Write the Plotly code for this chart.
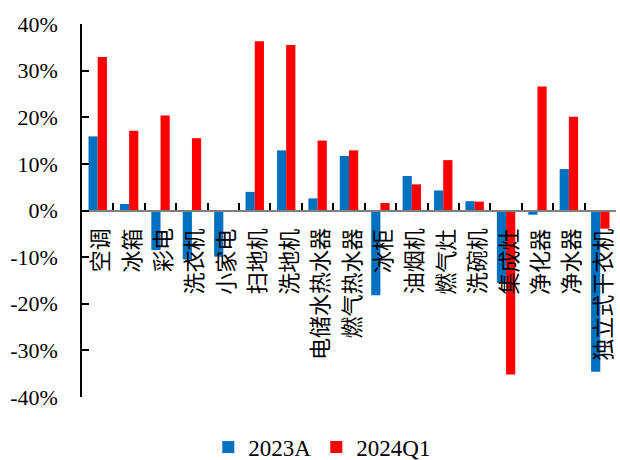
import plotly.graph_objects as go

# Year-on-year growth by appliance category (%)
categories = ["空调", "冰箱", "彩电", "洗衣机", "小家电", "扫地机", "洗地机",
              "电储水热水器", "燃气热水器", "冰柜", "油烟机", "燃气灶", "洗碗机",
              "集成灶", "净化器", "净水器", "独立式干衣机"]
growth_2023a = [15.9, 1.4, -8.5, -10.5, -9.9, 4.0, 12.9,
                2.6, 11.7, -18.2, 7.4, 4.3, 2.0,
                -15.5, -0.9, 8.9, -34.6]
growth_2024q1 = [32.9, 17.1, 20.4, 15.5, -0.3, 36.3, 35.5,
                 15.0, 12.9, 1.6, 5.6, 10.8, 1.9,
                 -35.2, 26.6, 20.1, -3.9]
y_ticks = [-40, -30, -20, -10, 0, 10, 20, 30, 40]

SERIF = "Liberation Serif"
CJK = "Noto Sans CJK SC"

fig = go.Figure()
fig.add_trace(go.Bar(name="2023A", x=categories, y=growth_2023a,
                     marker=dict(color="#0070C0", line=dict(width=0))))
fig.add_trace(go.Bar(name="2024Q1", x=categories, y=growth_2024q1,
                     marker=dict(color="#FF0000", line=dict(width=0))))

# Vertical category labels hanging just below the zero line
for cat in categories:
    fig.add_annotation(x=cat, y=0, xref="x", yref="y", text=cat,
                       textangle=-90, showarrow=False,
                       xanchor="center", yanchor="top", yshift=-16,
                       font=dict(family=CJK, size=22, color="black"))

fig.update_layout(
    width=620, height=460,
    font=dict(family=SERIF, color="black"),
    margin=dict(l=82, r=4, t=24, b=63, autoexpand=False),
    paper_bgcolor="white", plot_bgcolor="white",
    barmode="group", bargap=0.414, bargroupgap=0,
    showlegend=True,
    legend=dict(orientation="h", x=0.45, xanchor="center",
                y=-0.134, yanchor="middle",
                font=dict(family=SERIF, size=23, color="black"),
                itemwidth=30, tracegroupgap=0),
    xaxis=dict(
        type="category", anchor="free", position=0.5,
        range=[-0.5, len(categories) - 0.5],
        showline=True, linecolor="#7f7f7f", linewidth=2,
        tickson="boundaries", ticks="inside", ticklen=7,
        tickwidth=1.5, tickcolor="black",
        showticklabels=False, showgrid=False, zeroline=False,
    ),
    yaxis=dict(
        range=[-40, 40], tickvals=y_ticks,
        ticktext=[f"{v}%" for v in y_ticks],
        showline=True, linecolor="black", linewidth=1.5,
        ticks="inside", ticklen=7, tickwidth=1.5, tickcolor="black",
        ticklabelstandoff=18,
        tickfont=dict(family=SERIF, size=22, color="black"),
        showgrid=False, zeroline=False,
    ),
)

fig.write_html("out.html")
